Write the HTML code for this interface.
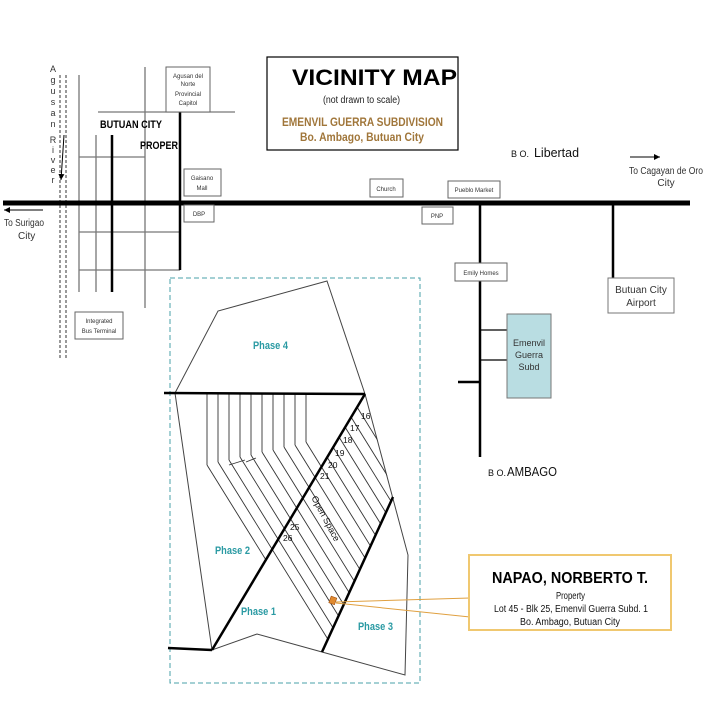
<!DOCTYPE html>
<html><head><meta charset="utf-8"><style>
html,body{margin:0;padding:0;background:#fff;width:720px;height:720px;overflow:hidden}
svg{display:block}
text{font-family:"Liberation Sans",sans-serif}
</style></head><body>
<svg width="720" height="720" viewBox="0 0 720 720" xmlns="http://www.w3.org/2000/svg">
<defs>
<clipPath id="cp"><polygon points="150,300 365,394 393,497 322,652 100,700"/></clipPath>
<marker id="ah" markerWidth="8" markerHeight="8" refX="6" refY="3" orient="auto"><path d="M0,0 L6,3 L0,6 z" fill="#000"/></marker>
</defs>
<line x1="60" y1="75" x2="60" y2="358" stroke="#333" stroke-dasharray="3,2"/>
<line x1="66" y1="75" x2="66" y2="358" stroke="#333" stroke-dasharray="3,2"/>
<g font-size="9" fill="#333">
<text x="53" y="72" text-anchor="middle">A</text><text x="53" y="83" text-anchor="middle">g</text><text x="53" y="94" text-anchor="middle">u</text><text x="53" y="105" text-anchor="middle">s</text><text x="53" y="116" text-anchor="middle">a</text><text x="53" y="127" text-anchor="middle">n</text>
<text x="53" y="143" text-anchor="middle">R</text><text x="53" y="153" text-anchor="middle">i</text><text x="53" y="163" text-anchor="middle">v</text><text x="53" y="173" text-anchor="middle">e</text><text x="53" y="183" text-anchor="middle">r</text>
</g>
<line x1="64" y1="135" x2="61" y2="180" stroke="#000" marker-end="url(#ah)"/>
<g stroke="#777" stroke-width="1.3">
<line x1="79" y1="75" x2="79" y2="292"/>
<line x1="96" y1="135" x2="96" y2="292"/>
<line x1="145" y1="67" x2="145" y2="308"/>
<line x1="98" y1="112" x2="235" y2="112"/>
<line x1="79" y1="157" x2="145" y2="157"/>
<line x1="79" y1="232" x2="180" y2="232"/>
<line x1="79" y1="270" x2="180" y2="270"/>
</g>
<line x1="112" y1="135" x2="112" y2="292" stroke="#000" stroke-width="2.5"/>
<line x1="180" y1="112" x2="180" y2="270" stroke="#000" stroke-width="2.5"/>
<text x="100" y="128" font-size="11" font-weight="bold" textLength="62" lengthAdjust="spacingAndGlyphs">BUTUAN CITY</text>
<text x="140" y="149" font-size="11" font-weight="bold" textLength="38" lengthAdjust="spacingAndGlyphs">PROPER</text>
<line x1="3" y1="203" x2="690" y2="203" stroke="#000" stroke-width="5"/>
<line x1="43" y1="210" x2="4" y2="210" stroke="#000" marker-end="url(#ah)"/>
<text x="4" y="226" font-size="10" fill="#333" textLength="40" lengthAdjust="spacingAndGlyphs">To Surigao</text>
<text x="18" y="239" font-size="10" fill="#333">City</text>
<line x1="630" y1="157" x2="660" y2="157" stroke="#000" marker-end="url(#ah)"/>
<text x="629" y="174" font-size="10" fill="#333" textLength="74" lengthAdjust="spacingAndGlyphs">To  Cagayan de Oro</text>
<text x="666" y="186" font-size="10" fill="#333" text-anchor="middle">City</text>
<g fill="#fff" stroke="#666" stroke-width="1">
<rect x="166" y="67" width="44" height="45"/>
<rect x="184" y="169" width="37" height="27"/>
<rect x="184" y="205" width="30" height="17"/>
<rect x="370" y="179" width="33" height="18"/>
<rect x="448" y="181" width="52" height="17"/>
<rect x="422" y="207" width="31" height="17"/>
<rect x="75" y="312" width="48" height="27"/>
</g>
<g font-size="6" fill="#333" text-anchor="middle">
<text x="188" y="78">Agusan del</text><text x="188" y="86">Norte</text><text x="188" y="96">Provincial</text><text x="188" y="105">Capitol</text>
<text x="202" y="180">Gaisano</text><text x="202" y="190">Mall</text>
<text x="199" y="216">DBP</text>
<text x="386" y="191">Church</text>
<text x="474" y="192">Pueblo Market</text>
<text x="437" y="218">PNP</text>
<text x="99" y="323">Integrated</text><text x="99" y="333">Bus Terminal</text>
</g>
<rect x="267" y="57" width="191" height="93" fill="#fff" stroke="#000" stroke-width="1.2"/>
<text x="292" y="85" font-size="22" font-weight="bold" textLength="165" lengthAdjust="spacingAndGlyphs">VICINITY MAP</text>
<text x="323" y="103" font-size="10" fill="#222" textLength="77" lengthAdjust="spacingAndGlyphs">(not drawn to scale)</text>
<text x="282" y="126" font-size="11.5" font-weight="bold" fill="#a0763a" textLength="161" lengthAdjust="spacingAndGlyphs">EMENVIL GUERRA SUBDIVISION</text>
<text x="300" y="141" font-size="11.5" font-weight="bold" fill="#a0763a" textLength="124" lengthAdjust="spacingAndGlyphs">Bo. Ambago, Butuan City</text>
<text x="511" y="157" font-size="9" fill="#111">B O.</text><text x="534" y="157" font-size="13" fill="#111" textLength="45" lengthAdjust="spacingAndGlyphs">Libertad</text>
<line x1="480" y1="202" x2="480" y2="457" stroke="#000" stroke-width="2.5"/>
<line x1="458" y1="382" x2="480" y2="382" stroke="#000" stroke-width="2.5"/>
<line x1="481" y1="330" x2="507" y2="330" stroke="#000" stroke-width="1.2"/>
<line x1="481" y1="360" x2="507" y2="360" stroke="#000" stroke-width="1.2"/>
<line x1="613" y1="202" x2="613" y2="278" stroke="#000" stroke-width="2.5"/>
<rect x="455" y="263" width="52" height="18" fill="#fff" stroke="#666"/>
<text x="481" y="275" font-size="6" text-anchor="middle" fill="#333">Emily Homes</text>
<rect x="507" y="314" width="44" height="84" fill="#b9dde2" stroke="#777"/>
<g font-size="9" text-anchor="middle" fill="#333"><text x="529" y="346">Emenvil</text><text x="529" y="358">Guerra</text><text x="529" y="370">Subd</text></g>
<rect x="608" y="278" width="66" height="35" fill="#fff" stroke="#777"/>
<g font-size="10" text-anchor="middle" fill="#333"><text x="641" y="293">Butuan City</text><text x="641" y="306">Airport</text></g>
<text x="488" y="476" font-size="9" fill="#111">B O.</text><text x="507" y="476" font-size="13" fill="#111" textLength="50" lengthAdjust="spacingAndGlyphs">AMBAGO</text>
<rect x="170" y="278" width="250" height="405" fill="none" stroke="#4aa0a8" stroke-dasharray="5,3"/>
<polyline points="175,393 218,311 327,281 365,394 408,555 405,675 322,652 257,634 212,650 175,393" fill="none" stroke="#444" stroke-width="1"/>
<g stroke="#333" stroke-width="0.9">
<line x1="207" y1="393" x2="207" y2="465"/><line x1="207" y1="465" x2="266" y2="560"/>
<line x1="218" y1="393" x2="218" y2="462"/>
<line x1="229" y1="393" x2="229" y2="460"/>
<line x1="240" y1="393" x2="240" y2="457"/>
<line x1="251" y1="393" x2="251" y2="455"/>
<line x1="262" y1="393" x2="262" y2="452"/>
<line x1="273" y1="393" x2="273" y2="450"/>
<line x1="284" y1="393" x2="284" y2="447"/>
<line x1="295" y1="393" x2="295" y2="445"/>
<line x1="306" y1="393" x2="306" y2="442"/>
<line x1="229" y1="465" x2="245" y2="460"/><line x1="246" y1="462" x2="256" y2="458"/>
<g clip-path="url(#cp)">
<line x1="218" y1="462" x2="404" y2="762"/>
<line x1="229" y1="460" x2="415" y2="760"/>
<line x1="240" y1="457" x2="426" y2="757"/>
<line x1="251" y1="455" x2="437" y2="755"/>
<line x1="262" y1="452" x2="448" y2="752"/>
<line x1="273" y1="450" x2="459" y2="750"/>
<line x1="284" y1="447" x2="470" y2="747"/>
<line x1="295" y1="445" x2="481" y2="745"/>
<line x1="306" y1="442" x2="492" y2="742"/>
<line x1="327" y1="457" x2="513" y2="757"/>
<line x1="333" y1="447" x2="519" y2="747"/>
<line x1="339" y1="437" x2="525" y2="737"/>
<line x1="345" y1="427" x2="531" y2="727"/>
<line x1="351" y1="417" x2="537" y2="717"/>
<line x1="357" y1="407" x2="543" y2="707"/>
</g>
</g>
<g stroke="#000" stroke-width="2.5" fill="none">
<line x1="164" y1="393" x2="365" y2="394"/>
<line x1="212" y1="650" x2="365" y2="394"/>
<line x1="322" y1="652" x2="393" y2="497"/>
<line x1="168" y1="648" x2="212" y2="650"/>
</g>
<g font-size="8.5" fill="#111">
<text x="361" y="419">16</text><text x="350" y="431">17</text><text x="343" y="443">18</text><text x="335" y="456">19</text><text x="328" y="468">20</text><text x="320" y="479">21</text><text x="290" y="530">25</text><text x="283" y="541">26</text>
</g>
<text x="323" y="520" font-size="9" fill="#111" text-anchor="middle" transform="rotate(62 323 520)">Open Space</text>
<g font-size="11" font-weight="bold" fill="#2a9aa3">
<text x="253" y="349" textLength="35" lengthAdjust="spacingAndGlyphs">Phase 4</text>
<text x="215" y="554" textLength="35" lengthAdjust="spacingAndGlyphs">Phase 2</text>
<text x="241" y="615" textLength="35" lengthAdjust="spacingAndGlyphs">Phase 1</text>
<text x="358" y="630" textLength="35" lengthAdjust="spacingAndGlyphs">Phase 3</text>
</g>
<line x1="336" y1="602" x2="470" y2="598" stroke="#e0a040" stroke-width="1"/>
<line x1="336" y1="603" x2="470" y2="617" stroke="#e0a040" stroke-width="1"/>
<rect x="330" y="597" width="6" height="7" fill="#e08a30" stroke="#a05010" stroke-width="0.6" transform="rotate(20 333 600)"/>
<rect x="469" y="555" width="202" height="75" fill="#fff" stroke="#f0c870" stroke-width="2"/>
<text x="492" y="583" font-size="16" font-weight="bold" textLength="156" lengthAdjust="spacingAndGlyphs">NAPAO, NORBERTO T.</text>
<g font-size="10" fill="#111">
<text x="556" y="599" textLength="29" lengthAdjust="spacingAndGlyphs">Property</text>
<text x="494" y="612" textLength="154" lengthAdjust="spacingAndGlyphs">Lot 45 - Blk 25, Emenvil Guerra Subd. 1</text>
<text x="520" y="625" textLength="100" lengthAdjust="spacingAndGlyphs">Bo. Ambago, Butuan City</text>
</g>
</svg>
</body></html>
